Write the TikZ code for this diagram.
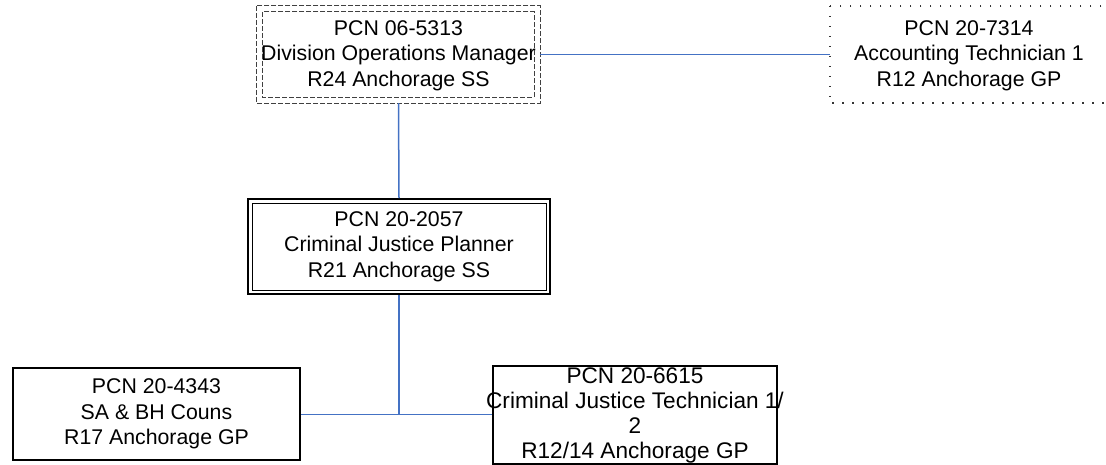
\documentclass[tikz,border=0pt]{standalone}
\usepackage{fontspec}
\setmainfont{Liberation Sans}
\usetikzlibrary{calc}
\definecolor{linkblue}{RGB}{68,114,196}
\tikzset{
  box/.style={rectangle, inner sep=0pt, align=center, font=\fontsize{21.3}{25.5}\selectfont, text=black},
  solidbox/.style={box, draw=black, line width=1.6pt},
  link/.style={draw=linkblue, line width=1.5pt},
  dashline/.style={draw=black!75, line width=1pt, dash pattern=on 5pt off 2pt},
  dotline/.style={draw=black!80, line width=1.5pt, dash pattern=on 1.5pt off 8.5pt},
}
\begin{document}
\begin{tikzpicture}[x=1pt,y=-1pt]
\useasboundingbox (0,0) rectangle (1106,464);
% top box (double dashed)
\node[box, minimum width=283pt, minimum height=97pt] (top) at (398.5,55.5)
  {PCN 06-5313\\Division Operations Manager\\R24 Anchorage SS};
\draw[dashline] ($(top.north west)+(0,-1)$) rectangle ($(top.south east)+(0,-1)$);
\draw[dashline] ($(top.north west)+(6,5)$) rectangle ($(top.south east)+(-6,-7)$);
% dotted box
\node[box, minimum width=278pt, minimum height=97pt] (acct) at (969,55.5)
  {PCN 20-7314\\Accounting Technician 1\\R12 Anchorage GP};
\draw[dotline] ($(acct.north west)+(0,-1)$) rectangle ($(acct.south east)+(0,-1)$);
% middle box (double)
\node[box, draw=black, line width=2pt, minimum width=302pt, minimum height=95pt] (mid) at (399,246.5)
  {PCN 20-2057\\Criminal Justice Planner\\R21 Anchorage SS};
\draw[black, line width=1pt] ($(mid.north west)+(5,5)$) rectangle ($(mid.south east)+(-5,-5)$);
% bottom boxes
\node[solidbox, minimum width=287pt, minimum height=92pt] (bl) at (156.5,414)
  {PCN 20-4343\\SA \& BH Couns\\R17 Anchorage GP};
\node[solidbox, minimum width=284pt, minimum height=98pt, inner xsep=-7pt, font=\fontsize{22.6}{25}\selectfont] (br) at (635,415)
  {PCN 20-6615\\Criminal Justice Technician 1/\\2\\R12/14 Anchorage GP};
% connectors
\coordinate (j) at (399,414.5);
\draw[link] ($(top.south)+(0,-1)$) -- (mid.north);
\draw[link] ($(top.east)+(0,-1)$) -- ($(acct.west)+(0,-1)$);
\draw[link] (mid.south) -- (j);
\draw[link] (bl.east |- j) -- (br.west |- j);
\end{tikzpicture}
\end{document}
